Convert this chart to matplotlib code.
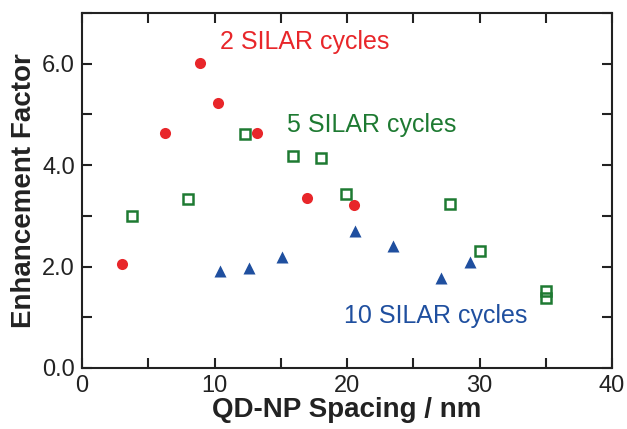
import matplotlib
matplotlib.use("Agg")
import matplotlib.pyplot as plt
from matplotlib.ticker import MultipleLocator

plt.rcParams['font.family'] = ['Liberation Sans', 'DejaVu Sans']

###data###
x_2cyc = [3.0, 6.3, 8.9, 10.3, 13.2, 17.0, 20.5]
y_2cyc = [2.05, 4.64, 6.01, 5.23, 4.63, 3.35, 3.21]
x_5cyc = [3.8, 8.0, 12.3, 15.9, 18.0, 19.9, 27.8, 30.0, 35.0, 35.0]
y_5cyc = [3.0, 3.33, 4.61, 4.18, 4.14, 3.43, 3.24, 2.31, 1.52, 1.38]
x_10cyc = [10.4, 12.6, 15.1, 20.6, 23.5, 27.1, 29.3]
y_10cyc = [1.91, 1.97, 2.19, 2.70, 2.41, 1.78, 2.09]

red = '#e8262a'
green = '#1e7a32'
blue = '#1f4f9f'

fig = plt.figure(figsize=(6.27, 4.29), dpi=100)
ax = fig.add_axes([82/627, 61/429, 530/627, 355/429])

ax.plot(x_2cyc, y_2cyc, 'o', color=red, ms=8, mec='none')
ax.plot(x_5cyc, y_5cyc, 's', mfc='none', mec=green, mew=1.8, ms=7)
ax.plot(x_10cyc, y_10cyc, '^', color=blue, ms=9, mec='none')

ax.text(10.4, 6.43, '2 SILAR cycles', color=red, fontsize=18, va='center')
ax.text(15.5, 4.8, '5 SILAR cycles', color=green, fontsize=18, va='center')
ax.text(19.8, 1.03, '10 SILAR cycles', color=blue, fontsize=18, va='center')

ax.set_xlim(0, 40)
ax.set_ylim(0, 7)
ax.xaxis.set_major_locator(MultipleLocator(10))
ax.xaxis.set_minor_locator(MultipleLocator(5))
ax.yaxis.set_major_locator(MultipleLocator(2))
ax.yaxis.set_minor_locator(MultipleLocator(1))
ax.yaxis.set_major_formatter(lambda v, p: '%.1f' % v)
ax.tick_params(which='both', direction='in', top=True, right=True, width=1.5, labelsize=17, colors='#222222')
ax.tick_params(which='major', length=7, pad=5)
ax.tick_params(which='minor', length=7)
for s in ax.spines.values():
    s.set_linewidth(1.5)
    s.set_color('#222222')

ax.set_xlabel('QD-NP Spacing / nm', fontsize=20, fontweight='bold', color='#222222', labelpad=0)
ax.set_ylabel('Enhancement Factor', fontsize=20, fontweight='bold', color='#222222', labelpad=4)

fig.savefig('out.png', dpi=100)
